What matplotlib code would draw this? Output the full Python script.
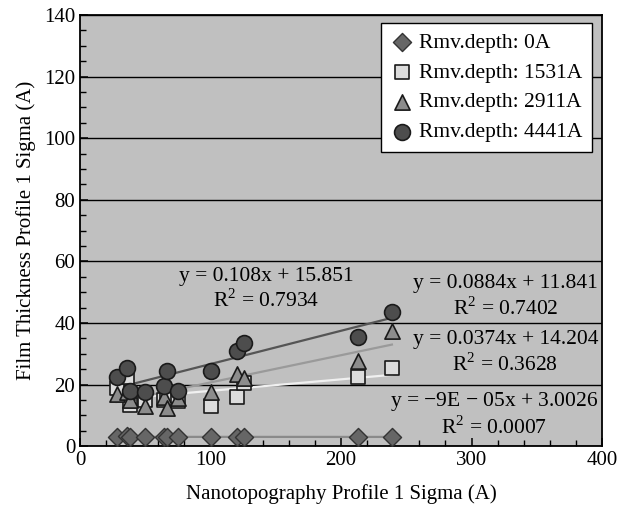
import numpy as np
import matplotlib.pyplot as plt
from matplotlib.ticker import MultipleLocator

plt.rcParams['font.family'] = ['Liberation Serif', 'DejaVu Serif']
plt.rcParams['mathtext.fontset'] = 'custom'
plt.rcParams['mathtext.rm'] = 'Liberation Serif'

# x values (nanotopography sigma) shared by every series
x = [28, 36, 38, 50, 64, 67, 75, 100, 120, 126, 213, 239]

# film thickness sigma for each removal depth
y_0a = [3, 3.2, 2.8, 3, 3.1, 2.9, 3, 3, 2.9, 3, 3.1, 2.9]
y_1531a = [19, 22.5, 13.5, 15, 15, 16, 14.5, 13, 16, 20.5, 22.5, 25.5]
y_2911a = [17, 17.5, 15, 13, 16, 12.5, 15.5, 17.5, 23.5, 22, 27.5, 37.5]
y_4441a = [22.5, 25.5, 18, 17.5, 19.5, 24.3, 17.8, 24.5, 31, 33.5, 35.5, 43.5]

labels = ['Rmv.depth: 0A', 'Rmv.depth: 1531A', 'Rmv.depth: 2911A', 'Rmv.depth: 4441A']

# trend line coefficients (slope, intercept) as printed on the chart
fit_0a = (-9e-05, 3.0026)
fit_1531a = (0.0374, 14.204)
fit_2911a = (0.0884, 11.841)
fit_4441a = (0.108, 15.851)

fig = plt.figure(figsize=(6.17, 5.11), dpi=100)
ax = fig.add_axes([0.1297, 0.127, 0.846, 0.8436])
ax.set_facecolor('#c0c0c0')

xl = np.array([min(x), max(x)])
ax.plot(xl, fit_0a[0] * xl + fit_0a[1], color='#8a8a8a', lw=1.6, zorder=2)
ax.plot(xl, fit_1531a[0] * xl + fit_1531a[1], color='#f0f0f0', lw=1.6, zorder=2)
ax.plot(xl, fit_2911a[0] * xl + fit_2911a[1], color='#9a9a9a', lw=1.6, zorder=2)
ax.plot(xl, fit_4441a[0] * xl + fit_4441a[1], color='#555555', lw=1.6, zorder=2)

ax.scatter(x, y_1531a, marker='s', s=100, facecolor='#dcdcdc', edgecolor='#1a1a1a', lw=1.2, zorder=3, label=labels[1])
ax.scatter(x, y_2911a, marker='^', s=120, facecolor='#8c8c8c', edgecolor='#1a1a1a', lw=1.2, zorder=4, label=labels[2])
ax.scatter(x, y_4441a, marker='o', s=130, facecolor='#4d4d4d', edgecolor='#1a1a1a', lw=1.2, zorder=5, label=labels[3])
ax.scatter(x, y_0a, marker='D', s=85, facecolor='#666666', edgecolor='#333333', lw=1.0, zorder=5, label=labels[0])

ax.set_xlim(0, 400)
ax.set_ylim(0, 140)
ax.xaxis.set_major_locator(MultipleLocator(100))
ax.xaxis.set_minor_locator(MultipleLocator(20))
ax.yaxis.set_major_locator(MultipleLocator(20))
ax.yaxis.set_minor_locator(MultipleLocator(5))
ax.tick_params(which='both', direction='in', labelsize=15, color='black')
ax.tick_params(which='major', length=6, width=1.1)
ax.tick_params(which='minor', length=4, width=1.0)
ax.yaxis.grid(True, color='black', lw=1.0)
ax.set_axisbelow(True)
for s in ax.spines.values():
    s.set_linewidth(1.3)

ax.set_xlabel('Nanotopography Profile 1 Sigma (A)', fontsize=15, labelpad=10)
ax.set_ylabel('Film Thickness Profile 1 Sigma (A)', fontsize=15, labelpad=6)

tk = dict(fontsize=15.5, multialignment='center', zorder=6)
ax.text(143, 51, 'y = 0.108x + 15.851\nR$^2$ = 0.7934', ha='center', va='center', **tk)
ax.text(397, 48.5, 'y = 0.0884x + 11.841\nR$^2$ = 0.7402', ha='right', va='center', **tk)
ax.text(397, 30.3, 'y = 0.0374x + 14.204\nR$^2$ = 0.3628', ha='right', va='center', **tk)
ax.text(397, 10.3, 'y = $-$9E $-$ 05x + 3.0026\nR$^2$ = 0.0007', ha='right', va='center', **tk)

h, l = ax.get_legend_handles_labels()
order = [3, 0, 1, 2]
leg = ax.legend([h[i] for i in order], [l[i] for i in order], loc='upper right',
                bbox_to_anchor=(0.981, 0.981), borderaxespad=0, fontsize=15.5, fancybox=False,
                framealpha=1, edgecolor='black', handletextpad=0.3,
                borderpad=0.45, labelspacing=0.45, handlelength=1.0, scatterpoints=1)
leg.get_frame().set_linewidth(1.0)
leg.set_zorder(10)

fig.savefig('out.png', dpi=100)
